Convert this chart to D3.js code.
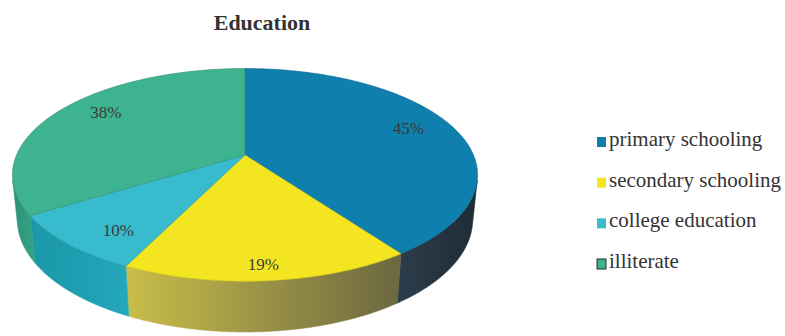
<!DOCTYPE html>
<html>
<head>
<meta charset="utf-8">
<script src="https://cdn.jsdelivr.net/npm/d3@7/dist/d3.min.js"></script>
<style>
  html, body { margin: 0; padding: 0; background: #fff; }
  svg { display: block; }
</style>
</head>
<body>
<svg id="chart" width="785" height="336"></svg>
<script>
// Education breakdown (label values as shown on the chart)
const title = "Education";
const categories = ["primary schooling", "secondary schooling", "college education", "illiterate"];
const values = [45, 19, 10, 38];
const valueLabels = ["45%", "19%", "10%", "38%"];

// Colours: top faces and the shaded outer walls (left -> right gradient)
const topColors = ["#0f7fad", "#f3e620", "#38bccd", "#3eb38f"];
const sideColors = [["#2c3d4b", "#1f2c36"], ["#c9be4a", "#6b6741"], ["#1b97a8", "#23a8ba"], ["#2d9277", "#35a386"]];
// Label placement: fraction of the radius and nudge (degrees) from the slice's mid-angle
const labelRadius = [0.8, 0.89, 0.81, 0.8];
const labelNudge = [-2.3, 0.5, -4.8, 5.4];

const W = 785, H = 336;
const svg = d3.select("#chart");
svg.append("rect").attr("width", W).attr("height", H).attr("fill", "#fff");

// Simple perspective camera looking down at the pie
const cx = 245, cy = 155;          // projected pie centre
const tilt = 26.7 * Math.PI / 180;  // camera elevation
const camDist = 4.78;               // in pie radii
const focal = 1092;
const thickness = 0.22;
const cT = Math.cos(tilt), sT = Math.sin(tilt);

function project(theta, r, y) {
  const u = r * Math.sin(theta), v = r * Math.cos(theta);
  const z = camDist + v * cT - y * sT;
  const yc = y * cT + v * sT;
  return [cx + focal * u / z, cy - focal * yc / z];
}

const pie = d3.pie().sort(null).value(d => d.value).startAngle(0).endAngle(2 * Math.PI);
const data = categories.map((c, i) => ({ name: c, value: values[i], label: valueLabels[i], i }));
const arcs = pie(data);

const line = d3.line().curve(d3.curveLinear);
const step = Math.PI / 360;

function samples(a0, a1) {
  const n = Math.max(2, Math.ceil((a1 - a0) / step));
  return d3.range(n + 1).map(k => a0 + (a1 - a0) * k / n);
}

// Outer wall is visible where its normal faces the camera
const visStart = Math.acos(-1 / (camDist * cT));
const visEnd = 2 * Math.PI - visStart;

const defs = svg.append("defs");
const gWalls = svg.append("g");
const gTops = svg.append("g");

arcs.forEach(a => {
  const a0 = Math.max(a.startAngle, visStart), a1 = Math.min(a.endAngle, visEnd);
  if (a1 <= a0) return;
  const th = samples(a0, a1);
  const topPts = th.map(t => project(t, 1, 0));
  const botPts = th.map(t => project(t, 1, -thickness)).reverse();
  const pts = topPts.concat(botPts);
  const xs = pts.map(p => p[0]);
  const gid = "wall" + a.data.i;
  const grad = defs.append("linearGradient").attr("id", gid)
    .attr("gradientUnits", "userSpaceOnUse")
    .attr("x1", d3.min(xs)).attr("x2", d3.max(xs)).attr("y1", 0).attr("y2", 0);
  grad.append("stop").attr("offset", 0).attr("stop-color", sideColors[a.data.i][0]);
  grad.append("stop").attr("offset", 1).attr("stop-color", sideColors[a.data.i][1]);
  gWalls.append("path")
    .attr("d", line(pts) + "Z")
    .attr("fill", `url(#${gid})`)
    .attr("stroke", `url(#${gid})`)
    .attr("stroke-width", 0.6);
});

arcs.forEach(a => {
  const pts = [project(0, 0, 0)].concat(samples(a.startAngle, a.endAngle).map(t => project(t, 1, 0)));
  gTops.append("path")
    .attr("d", line(pts) + "Z")
    .attr("fill", topColors[a.data.i])
    .attr("stroke", d3.color(topColors[a.data.i]).darker(0.6))
    .attr("stroke-width", 0.6)
    .attr("stroke-linejoin", "round");
});

// Value labels
arcs.forEach(a => {
  const mid = (a.startAngle + a.endAngle) / 2 + labelNudge[a.data.i] * Math.PI / 180;
  const p = project(mid, labelRadius[a.data.i], 0);
  svg.append("text")
    .attr("x", p[0]).attr("y", p[1])
    .attr("text-anchor", "middle")
    .attr("dominant-baseline", "central")
    .attr("font-family", "Liberation Serif, serif")
    .attr("font-size", 17)
    .attr("fill", "#3a3a3a")
    .text(a.data.label);
});

// Title
svg.append("text")
  .attr("x", 262).attr("y", 30)
  .attr("text-anchor", "middle")
  .attr("font-family", "Liberation Serif, serif")
  .attr("font-weight", "bold")
  .attr("font-size", 22)
  .attr("fill", "#333")
  .text(title);

// Legend
const legendY = d3.scalePoint().domain(categories).range([146, 268]);
const legend = svg.append("g");
categories.forEach((c, i) => {
  const y = legendY(c);
  legend.append("rect")
    .attr("x", 597).attr("y", y - 9).attr("width", 9).attr("height", 10)
    .attr("fill", topColors[i])
    .attr("stroke", i === 3 ? "#2b2b2b" : "none")
    .attr("stroke-width", 1);
  legend.append("text")
    .attr("transform", `translate(609,${y}) scale(1.05,1)`)
    .attr("font-family", "Liberation Serif, serif")
    .attr("font-size", 20)
    .attr("fill", "#333")
    .text(c);
});
</script>
</body>
</html>
